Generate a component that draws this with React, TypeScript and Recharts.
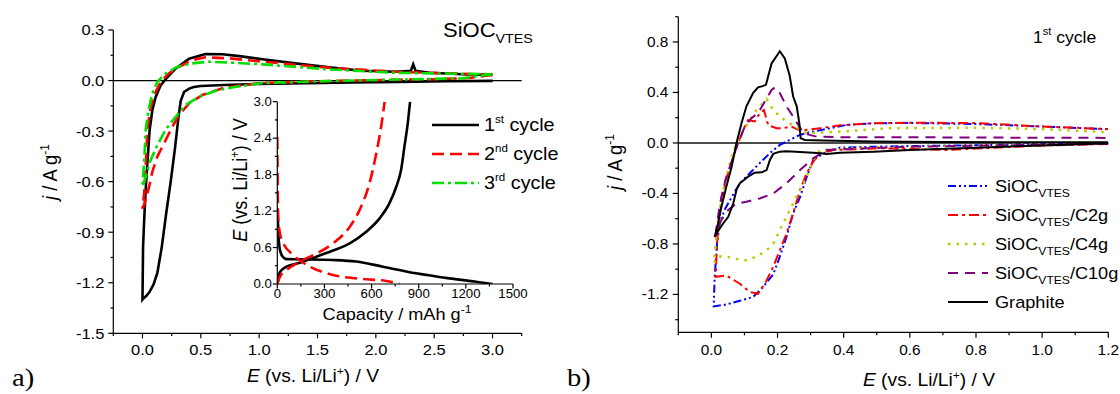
import { LineChart, Line, XAxis, YAxis, ReferenceLine } from 'recharts';

// ---- panel a: CV of SiOC_VTES, cycles 1-3 (E in V, j in A/g) ----
const cyc1E = [3.0, 2.6, 2.2, 1.8, 1.4, 1.0, 0.7, 0.5, 0.44, 0.40, 0.356, 0.328, 0.308, 0.279, 0.242, 0.205, 0.165, 0.128, 0.095, 0.06, 0.03, 0.01, 0.0,
  0.002, 0.005, 0.012, 0.02, 0.03, 0.042, 0.062, 0.085, 0.114, 0.157, 0.205, 0.285, 0.40, 0.54, 0.685, 0.83, 1.03, 1.31, 1.60, 1.88, 2.17, 2.30, 2.32, 2.34, 2.46, 2.74, 3.0];
const cyc1J = [-0.002, -0.004, -0.008, -0.012, -0.016, -0.02, -0.026, -0.032, -0.038, -0.048, -0.068, -0.12, -0.22, -0.40, -0.60, -0.78, -0.99, -1.14, -1.21, -1.255, -1.28, -1.292, -1.30,
  -1.18, -0.99, -0.87, -0.75, -0.62, -0.49, -0.29, -0.175, -0.096, -0.027, 0.013, 0.072, 0.13, 0.157, 0.156, 0.145, 0.126, 0.102, 0.078, 0.058, 0.052, 0.058, 0.096, 0.058, 0.046, 0.037, 0.033];

const cyc2E = [3.0, 2.8, 2.5, 2.2, 1.8, 1.4, 1.03, 0.828, 0.685, 0.513, 0.40, 0.314, 0.256, 0.185, 0.128, 0.085, 0.057, 0.03, 0.01, 0.0,
  0.01, 0.02, 0.028, 0.042, 0.071, 0.114, 0.157, 0.228, 0.314, 0.428, 0.54, 0.742, 1.03, 1.6, 2.17, 2.74, 3.0];
const cyc2J = [0.035, 0.015, 0.008, 0.005, 0.0, -0.006, -0.015, -0.03, -0.046, -0.086, -0.135, -0.205, -0.274, -0.373, -0.45, -0.54, -0.63, -0.70, -0.745, -0.76,
  -0.70, -0.63, -0.51, -0.29, -0.155, -0.066, -0.007, 0.043, 0.082, 0.122, 0.138, 0.132, 0.112, 0.076, 0.052, 0.04, 0.035];

const cyc3E = [3.0, 2.74, 2.2, 1.6, 1.03, 0.8, 0.628, 0.485, 0.37, 0.285, 0.2, 0.128, 0.071, 0.028, 0.01, 0.0,
  0.006, 0.014, 0.028, 0.051, 0.085, 0.128, 0.2, 0.3, 0.428, 0.57, 0.742, 1.03, 1.6, 2.17, 2.74, 3.0];
const cyc3J = [0.038, 0.013, 0.006, -0.003, -0.015, -0.037, -0.06, -0.096, -0.145, -0.215, -0.29, -0.383, -0.47, -0.57, -0.61, -0.63,
  -0.56, -0.49, -0.29, -0.175, -0.076, -0.007, 0.043, 0.082, 0.102, 0.112, 0.107, 0.096, 0.066, 0.046, 0.04, 0.038];

// ---- inset: galvanostatic profiles (capacity mAh/g, E in V) ----
const dis1Cap = [0, 2, 8, 17, 34, 59, 144, 355, 503, 672, 883, 1095, 1264, 1370];
const dis1E = [1.25, 1.16, 0.78, 0.56, 0.45, 0.41, 0.406, 0.395, 0.37, 0.285, 0.176, 0.093, 0.038, 0.0];
const chg1Cap = [0, 17, 59, 144, 249, 355, 461, 566, 651, 714, 757, 788, 809, 830, 845];
const chg1E = [0, 0.2, 0.285, 0.35, 0.45, 0.55, 0.67, 0.86, 1.08, 1.33, 1.6, 1.88, 2.26, 2.64, 3.0];
const dis2Cap = [0, 2, 5, 13, 38, 101, 207, 355, 566, 693, 778];
const dis2E = [2.42, 1.71, 1.16, 0.89, 0.67, 0.48, 0.285, 0.15, 0.077, 0.05, 0.0];
const chg2Cap = [0, 17, 59, 144, 249, 355, 461, 524, 587, 630, 661, 683];
const chg2E = [0, 0.12, 0.23, 0.37, 0.5, 0.67, 0.94, 1.22, 1.66, 2.15, 2.59, 3.0];

// ---- panel b: 1st cycle CVs ----
const vtesE = [1.2, 1.0, 0.8, 0.6, 0.49, 0.389, 0.348, 0.308, 0.288, 0.268, 0.247, 0.227, 0.207, 0.187, 0.157, 0.126, 0.086, 0.045, 0.007,
  0.01, 0.017, 0.025, 0.04, 0.061, 0.086, 0.116, 0.146, 0.177, 0.207, 0.237, 0.268, 0.308, 0.359, 0.409, 0.49, 0.6, 0.8, 1.0, 1.2];
const vtesJ = [-0.005, -0.01, -0.018, -0.025, -0.03, -0.037, -0.069, -0.135, -0.27, -0.43, -0.56, -0.745, -0.9, -1.04, -1.14, -1.22, -1.25, -1.28, -1.295,
  -1.06, -0.8, -0.64, -0.53, -0.43, -0.32, -0.24, -0.16, -0.08, -0.016, 0.024, 0.064, 0.09, 0.117, 0.143, 0.156, 0.158, 0.15, 0.13, 0.109];

const c2gE = [1.2, 1.0, 0.8, 0.71, 0.509, 0.369, 0.328, 0.308, 0.288, 0.268, 0.247, 0.227, 0.207, 0.187, 0.167, 0.141, 0.116, 0.086, 0.045, 0.013,
  0.017, 0.023, 0.033, 0.047, 0.066, 0.081, 0.101, 0.111, 0.131, 0.146, 0.159, 0.172, 0.197, 0.217, 0.242, 0.268, 0.328, 0.389, 0.49, 0.6, 0.8, 1.0, 1.2];
const c2gJ = [-0.008, -0.02, -0.045, -0.056, -0.042, -0.056, -0.082, -0.148, -0.24, -0.373, -0.56, -0.72, -0.85, -0.98, -1.09, -1.195, -1.18, -1.115, -1.05, -1.06,
  -0.8, -0.585, -0.43, -0.27, -0.11, 0.0, 0.13, 0.18, 0.17, 0.235, 0.26, 0.14, 0.117, 0.117, 0.13, 0.098, 0.117, 0.14, 0.156, 0.16, 0.158, 0.13, 0.11];

const c4gE = [1.2, 1.0, 0.8, 0.6, 0.45, 0.38, 0.328, 0.308, 0.288, 0.268, 0.247, 0.227, 0.207, 0.187, 0.167, 0.136, 0.106, 0.076, 0.045, 0.02, 0.008,
  0.013, 0.02, 0.03, 0.045, 0.061, 0.076, 0.091, 0.116, 0.136, 0.162, 0.167, 0.187, 0.207, 0.227, 0.247, 0.288, 0.389, 0.54, 0.8, 1.0, 1.2];
const c4gJ = [-0.005, -0.01, -0.02, -0.03, -0.04, -0.05, -0.056, -0.135, -0.27, -0.37, -0.48, -0.585, -0.69, -0.8, -0.85, -0.9, -0.93, -0.92, -0.9, -0.9, -0.95,
  -0.8, -0.64, -0.45, -0.27, -0.11, 0.0, 0.077, 0.18, 0.26, 0.33, 0.347, 0.26, 0.21, 0.17, 0.14, 0.077, 0.09, 0.117, 0.12, 0.11, 0.085];

const c10gE = [1.2, 1.0, 0.8, 0.6, 0.45, 0.348, 0.308, 0.268, 0.227, 0.187, 0.146, 0.106, 0.076, 0.051, 0.03, 0.017, 0.013,
  0.02, 0.03, 0.045, 0.066, 0.081, 0.101, 0.121, 0.141, 0.162, 0.182, 0.192, 0.207, 0.227, 0.247, 0.263, 0.278, 0.318, 0.389, 0.6, 0.9, 1.2];
const c10gJ = [-0.008, -0.015, -0.022, -0.03, -0.045, -0.056, -0.122, -0.215, -0.32, -0.4, -0.44, -0.466, -0.48, -0.53, -0.61, -0.69, -0.72,
  -0.585, -0.43, -0.27, -0.11, 0.0, 0.13, 0.196, 0.236, 0.33, 0.42, 0.44, 0.395, 0.29, 0.21, 0.143, 0.077, 0.05, 0.045, 0.045, 0.042, 0.04];

const graphE = [1.2, 1.0, 0.8, 0.6, 0.49, 0.389, 0.348, 0.328, 0.308, 0.268, 0.227, 0.207, 0.187, 0.177, 0.167, 0.152, 0.131, 0.111, 0.086, 0.076, 0.066, 0.051, 0.035, 0.02, 0.01,
  0.02, 0.03, 0.045, 0.061, 0.076, 0.091, 0.106, 0.126, 0.141, 0.155, 0.165, 0.182, 0.207, 0.222, 0.237, 0.247, 0.258, 0.266, 0.27, 0.283, 0.338, 0.49, 0.7, 0.9, 1.2];
const graphJ = [-0.003, -0.02, -0.038, -0.055, -0.069, -0.077, -0.087, -0.082, -0.077, -0.072, -0.066, -0.069, -0.087, -0.135, -0.215, -0.233, -0.236, -0.267, -0.32, -0.37, -0.48, -0.585, -0.64, -0.70, -0.745,
  -0.64, -0.51, -0.35, -0.19, 0.0, 0.156, 0.29, 0.395, 0.44, 0.45, 0.46, 0.63, 0.726, 0.67, 0.53, 0.37, 0.29, 0.156, 0.037, 0.024, 0.019, 0.011, 0.008, 0.006, 0.005];

// ---- ticks ----
const aXMajor = [0, 0.5, 1.0, 1.5, 2.0, 2.5, 3.0];
const aXMinor = [-0.25, 0.25, 0.75, 1.25, 1.75, 2.25, 2.75, 3.25];
const aYMajor = [-1.5, -1.2, -0.9, -0.6, -0.3, 0, 0.3];
const aYMinor = [-1.35, -1.05, -0.75, -0.45, -0.15, 0.15];
const inXMajor = [0, 300, 600, 900, 1200, 1500];
const inXMinor = [150, 450, 750, 1050, 1350];
const inYMajor = [0, 0.6, 1.2, 1.8, 2.4, 3.0];
const inYMinor = [0.3, 0.9, 1.5, 2.1, 2.7];
const bXMajor = [0, 0.2, 0.4, 0.6, 0.8, 1.0, 1.2];
const bXMinor = [-0.1, 0.1, 0.3, 0.5, 0.7, 0.9, 1.1];
const bYMajor = [-1.2, -0.8, -0.4, 0, 0.4, 0.8];
const bYMinor = [-1.4, -1.0, -0.6, -0.2, 0.2, 0.6, 1.0];

const SX = 1.1;
const FONT = '"Liberation Sans", Arial, sans-serif';

const zip = (xs: number[], ys: number[]) => xs.map((x, i) => ({ x, y: ys[i] }));
const sorted = (a: number[], b: number[]) => [...a, ...b].sort((p, q) => p - q);
const has = (arr: number[], v: number) => arr.some((m) => Math.abs(m - v) < 1e-6);

function T({ x, y, size, anchor = 'start', rotate = false, family = FONT, children }: any) {
  const tf = `translate(${x} ${y}) scale(${SX} 1)` + (rotate ? ' rotate(-90)' : '');
  return (
    <text transform={tf} fontSize={size} fontFamily={family} textAnchor={anchor} fill="#000">
      {children}
    </text>
  );
}

function makeXTick(major: number[], size: number, dy: number, len: number, digits: number) {
  return (p: any) => {
    const v = p.payload.value;
    const isMajor = has(major, v);
    return (
      <g>
        <line x1={p.x} y1={p.y} x2={p.x} y2={p.y + (isMajor ? len : len * 0.55)} stroke="#000" strokeWidth={1.2} />
        {isMajor && <T x={p.x} y={p.y + dy} size={size} anchor="middle">{v.toFixed(digits)}</T>}
      </g>
    );
  };
}

function makeYTick(major: number[], size: number, gap: number, len: number, digits: number) {
  return (p: any) => {
    const v = p.payload.value;
    const isMajor = has(major, v);
    return (
      <g>
        <line x1={p.x - (isMajor ? len : len * 0.55)} y1={p.y} x2={p.x} y2={p.y} stroke="#000" strokeWidth={1.2} />
        {isMajor && <T x={p.x - gap} y={p.y + size * 0.36} size={size} anchor="end">{v.toFixed(digits)}</T>}
      </g>
    );
  };
}

const AXIS = { stroke: '#000', strokeWidth: 1.2 };

function Sub({ children }: any) {
  return <tspan fontSize={11} dy={5}>{children}</tspan>;
}

export default function App() {
  const lw = 2.6;
  const bw = 2;
  return (
    <div style={{ position: 'absolute', left: 0, top: 0, width: 1120, height: 394, background: '#fff' }}>
      {/* panel a */}
      <div style={{ position: 'absolute', left: 0, top: 0 }}>
        <LineChart width={560} height={394} margin={{ top: 30, right: 38.3, bottom: 30.7, left: 53.3 }}>
          <XAxis type="number" dataKey="x" domain={[-0.25, 3.25]} ticks={sorted(aXMajor, aXMinor)} interval={0}
            allowDataOverflow height={30} tickSize={0} tickMargin={0} tickLine={false} axisLine={AXIS}
            tick={makeXTick(aXMajor, 15, 22, 5, 1)} />
          <YAxis type="number" domain={[-1.5, 0.3]} ticks={sorted(aYMajor, aYMinor)} interval={0}
            allowDataOverflow width={60} tickSize={0} tickMargin={0} tickLine={false} axisLine={AXIS}
            tick={makeYTick(aYMajor, 15, 9, 5, 1)} />
          <ReferenceLine y={0} stroke="#000" strokeWidth={1.2} />
          <Line data={zip(cyc1E, cyc1J)} dataKey="y" type="linear" stroke="#000" strokeWidth={lw} dot={false} activeDot={false} isAnimationActive={false} />
          <Line data={zip(cyc2E, cyc2J)} dataKey="y" type="linear" stroke="#ff0000" strokeWidth={lw} strokeDasharray="12 6" dot={false} activeDot={false} isAnimationActive={false} />
          <Line data={zip(cyc3E, cyc3J)} dataKey="y" type="linear" stroke="#00e000" strokeWidth={lw} strokeDasharray="12 4 3 4" dot={false} activeDot={false} isAnimationActive={false} />
        </LineChart>
      </div>
      {/* inset */}
      <div style={{ position: 'absolute', left: 200, top: 90 }}>
        <LineChart width={330} height={240} margin={{ top: 11.7, right: 17, bottom: 16, left: 17.3 }}>
          <XAxis type="number" dataKey="x" domain={[0, 1500]} ticks={sorted(inXMajor, inXMinor)} interval={0}
            allowDataOverflow height={30} tickSize={0} tickMargin={0} tickLine={false} axisLine={AXIS}
            tick={makeXTick(inXMajor, 12, 13.5, 4.5, 0)} />
          <YAxis type="number" domain={[0, 3]} ticks={sorted(inYMajor, inYMinor)} interval={0}
            allowDataOverflow width={60} tickSize={0} tickMargin={0} tickLine={false} axisLine={AXIS}
            tick={makeYTick(inYMajor, 12, 5.5, 4.5, 1)} />
          <Line data={zip(dis1Cap, dis1E)} dataKey="y" type="monotone" stroke="#000" strokeWidth={lw} dot={false} activeDot={false} isAnimationActive={false} />
          <Line data={zip(chg1Cap, chg1E)} dataKey="y" type="monotone" stroke="#000" strokeWidth={lw} dot={false} activeDot={false} isAnimationActive={false} />
          <Line data={zip(dis2Cap, dis2E)} dataKey="y" type="monotone" stroke="#ff0000" strokeWidth={lw} strokeDasharray="12 6" dot={false} activeDot={false} isAnimationActive={false} />
          <Line data={zip(chg2Cap, chg2E)} dataKey="y" type="monotone" stroke="#ff0000" strokeWidth={lw} strokeDasharray="12 6" dot={false} activeDot={false} isAnimationActive={false} />
        </LineChart>
      </div>
      {/* panel b */}
      <div style={{ position: 'absolute', left: 560, top: 0 }}>
        <LineChart width={560} height={394} margin={{ top: 16.7, right: 11.7, bottom: 31.7, left: 58.3 }}>
          <XAxis type="number" dataKey="x" domain={[-0.1, 1.2]} ticks={sorted(bXMajor, bXMinor)} interval={0}
            allowDataOverflow height={30} tickSize={0} tickMargin={0} tickLine={false} axisLine={AXIS}
            tick={makeXTick(bXMajor, 14, 23, 5.5, 1)} />
          <YAxis type="number" domain={[-1.5, 1.0]} ticks={sorted(bYMajor, bYMinor)} interval={0}
            allowDataOverflow width={60} tickSize={0} tickMargin={0} tickLine={false} axisLine={AXIS}
            tick={makeYTick(bYMajor, 14, 10, 5.5, 1)} />
          <ReferenceLine y={0} stroke="#4d4d4d" strokeWidth={2} />
          <Line data={zip(vtesE, vtesJ)} dataKey="y" type="linear" stroke="#0000ff" strokeWidth={bw} strokeDasharray="8 3 2 3 2 3" dot={false} activeDot={false} isAnimationActive={false} />
          <Line data={zip(c2gE, c2gJ)} dataKey="y" type="linear" stroke="#ff0000" strokeWidth={bw} strokeDasharray="10 4 3 4" dot={false} activeDot={false} isAnimationActive={false} />
          <Line data={zip(c4gE, c4gJ)} dataKey="y" type="linear" stroke="#bcc800" strokeWidth={bw + 0.5} strokeDasharray="2.5 6" dot={false} activeDot={false} isAnimationActive={false} />
          <Line data={zip(c10gE, c10gJ)} dataKey="y" type="linear" stroke="#800080" strokeWidth={bw} strokeDasharray="10 7" dot={false} activeDot={false} isAnimationActive={false} />
          <Line data={zip(graphE, graphJ)} dataKey="y" type="linear" stroke="#000" strokeWidth={bw} dot={false} activeDot={false} isAnimationActive={false} />
        </LineChart>
      </div>
      {/* titles, labels, legends */}
      <svg width={1120} height={394} style={{ position: 'absolute', left: 0, top: 0, pointerEvents: 'none' }}>
        <T x={57} y={172} size={18.5} anchor="middle" rotate>
          <tspan fontStyle="italic">j</tspan> / A g<tspan fontSize={12} dy={-7}>-1</tspan>
        </T>
        <T x={313} y={382} size={17.5} anchor="middle">
          <tspan fontStyle="italic">E</tspan> (vs. Li/Li<tspan fontSize={11} dy={-7}>+</tspan><tspan dy={7}>) / V</tspan>
        </T>
        <T x={443} y={37} size={20}>SiOC<tspan fontSize={13} dy={6}>VTES</tspan></T>
        {[125, 154, 183].map((yy, i) => (
          <g key={i}>
            <line x1={432} x2={479} y1={yy} y2={yy} stroke={['#000', '#ff0000', '#00e000'][i]} strokeWidth={lw}
              strokeDasharray={['', '12 6', '12 4 3 4'][i] || undefined} />
            <T x={484} y={yy + 6} size={18}>
              {i + 1}<tspan fontSize={10.5} dy={-8}>{['st', 'nd', 'rd'][i]}</tspan><tspan dy={8}> cycle</tspan>
            </T>
          </g>
        ))}
        <T x={247} y={180} size={18} anchor="middle" rotate>
          <tspan fontStyle="italic">E</tspan> (vs. Li/Li<tspan fontSize={11} dy={-7}>+</tspan><tspan dy={7}>) / V</tspan>
        </T>
        <T x={397} y={320} size={16.5} anchor="middle">
          Capacity / mAh g<tspan fontSize={11} dy={-7}>-1</tspan>
        </T>
        <T x={12} y={386} size={26} family='"Liberation Serif", "Times New Roman", serif'>a)</T>

        <T x={622} y={162} size={18.5} anchor="middle" rotate>
          <tspan fontStyle="italic">j</tspan> / A g<tspan fontSize={12} dy={-7}>-1</tspan>
        </T>
        <T x={929} y={386} size={17.5} anchor="middle">
          <tspan fontStyle="italic">E</tspan> (vs. Li/Li<tspan fontSize={11} dy={-7}>+</tspan><tspan dy={7}>) / V</tspan>
        </T>
        <T x={1033} y={43} size={16}>
          1<tspan fontSize={10} dy={-8}>st</tspan><tspan dy={8}> cycle</tspan>
        </T>
        {[
          { c: '#0000ff', d: '8 3 2 3 2 3', s: '' },
          { c: '#ff0000', d: '10 4 3 4', s: '/C2g' },
          { c: '#bcc800', d: '2.5 6', s: '/C4g' },
          { c: '#800080', d: '10 7', s: '/C10g' },
        ].map((r, i) => {
          const yy = 186 + i * 29;
          return (
            <g key={i}>
              <line x1={948} x2={988} y1={yy} y2={yy} stroke={r.c} strokeWidth={i === 2 ? bw + 0.5 : bw} strokeDasharray={r.d} />
              <T x={995} y={yy + 5.5} size={16.5}>
                SiOC<Sub>VTES</Sub>{r.s && <tspan dy={-5}>{r.s}</tspan>}
              </T>
            </g>
          );
        })}
        <line x1={948} x2={988} y1={302} y2={302} stroke="#000" strokeWidth={bw} />
        <T x={995} y={307.5} size={16.5}>Graphite</T>
        <T x={567} y={386} size={26} family='"Liberation Serif", "Times New Roman", serif'>b)</T>
      </svg>
    </div>
  );
}
